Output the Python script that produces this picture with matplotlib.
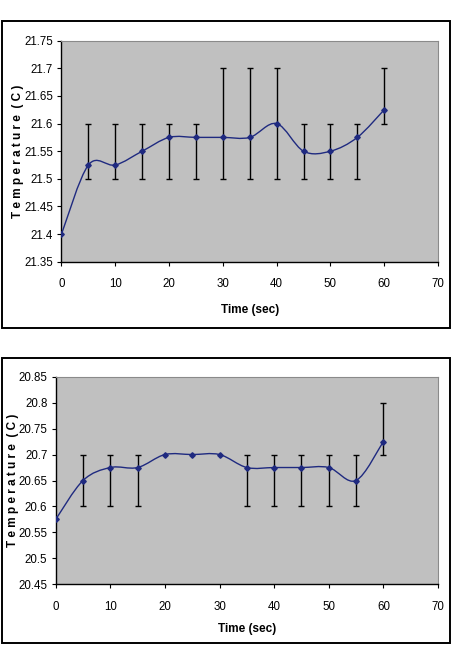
import numpy as np
import matplotlib.pyplot as plt
from matplotlib.path import Path
from matplotlib.patches import PathPatch, Rectangle

# ---- data ----
time_s = [0, 5, 10, 15, 20, 25, 30, 35, 40, 45, 50, 55, 60]

temp_a = [21.4, 21.525, 21.525, 21.55, 21.575, 21.575, 21.575, 21.575,
          21.6, 21.55, 21.55, 21.575, 21.625]
err_lo_a = [None, 21.5, 21.5, 21.5, 21.5, 21.5, 21.5, 21.5, 21.5, 21.5, 21.5, 21.5, 21.6]
err_hi_a = [None, 21.6, 21.6, 21.6, 21.6, 21.6, 21.7, 21.7, 21.7, 21.6, 21.6, 21.6, 21.7]

temp_b = [20.575, 20.65, 20.675, 20.675, 20.7, 20.7, 20.7, 20.675,
          20.675, 20.675, 20.675, 20.65, 20.725]
err_lo_b = [None, 20.6, 20.6, 20.6, None, None, None, 20.6, 20.6, 20.6, 20.6, 20.6, 20.7]
err_hi_b = [None, 20.7, 20.7, 20.7, None, None, None, 20.7, 20.7, 20.7, 20.7, 20.7, 20.8]

yticks_a = [21.35, 21.4, 21.45, 21.5, 21.55, 21.6, 21.65, 21.7, 21.75]
ytick_labels_a = ['21.35', '21.4', '21.45', '21.5', '21.55', '21.6', '21.65', '21.7', '21.75']
yticks_b = [20.45, 20.5, 20.55, 20.6, 20.65, 20.7, 20.75, 20.8, 20.85]
ytick_labels_b = ['20.45', '20.5', '20.55', '20.6', '20.65', '20.7', '20.75', '20.8', '20.85']
xticks = [0, 10, 20, 30, 40, 50, 60, 70]

plt.rcParams['font.family'] = ['Liberation Sans', 'DejaVu Sans']

W, H = 456, 646
fig = plt.figure(figsize=(W / 100, H / 100), dpi=100)


def fbox(x0, y0, x1, y1):
    # pixel box (top-left origin) -> figure fraction rect
    return [x0 / W, 1 - y1 / H, (x1 - x0) / W, (y1 - y0) / H]


def smooth_path(x, y):
    # Excel-style smoothed line: Bezier through points (Catmull-Rom, tension 1/6)
    pts = np.column_stack([x, y]).astype(float)
    n = len(pts)
    verts = [pts[0]]
    codes = [Path.MOVETO]
    for i in range(n - 1):
        p0 = pts[i - 1] if i > 0 else pts[i]
        p1, p2 = pts[i], pts[i + 1]
        p3 = pts[i + 2] if i + 2 < n else pts[i + 1]
        c1 = p1 + (p2 - p0) / 6.0
        c2 = p2 - (p3 - p1) / 6.0
        verts += [c1, c2, p2]
        codes += [Path.CURVE4] * 3
    return Path(verts, codes)


def draw_panel(box, axrect, temps, lo, hi, yticks, ylabels, xpad):
    fig.patches.append(Rectangle((box[0], box[1]), box[2], box[3],
                                 transform=fig.transFigure, fill=False,
                                 edgecolor='black', linewidth=1.4))
    ax = fig.add_axes(axrect)
    ax.set_facecolor('#C0C0C0')
    ax.set_xlim(0, 70)
    ax.set_ylim(yticks[0], yticks[-1])

    xs = [t for t, l in zip(time_s, lo) if l is not None]
    ys = [(l + h) / 2 for l, h in zip(lo, hi) if l is not None]
    half = [(h - l) / 2 for l, h in zip(lo, hi) if l is not None]
    ax.errorbar(xs, ys, yerr=half, fmt='none', ecolor='black',
                elinewidth=1.0, capsize=2.5, capthick=1.0, zorder=2)

    ax.add_patch(PathPatch(smooth_path(time_s, temps), facecolor='none',
                           edgecolor='#1F2A80', linewidth=1.0, zorder=3))
    ax.plot(time_s, temps, linestyle='none', marker='D', markersize=2.8,
            color='#1F2A80', zorder=4)

    ax.set_yticks(yticks)
    ax.set_yticklabels(ylabels)
    ax.set_xticks(xticks)
    ax.tick_params(axis='both', direction='out', length=3, width=0.8,
                   labelsize=8.3, colors='black')
    ax.tick_params(axis='x', pad=9)
    ax.tick_params(axis='y', pad=3)
    for side in ('top', 'right'):
        ax.spines[side].set_color('#8A8A8A')
        ax.spines[side].set_linewidth(0.8)
    for side in ('left', 'bottom'):
        ax.spines[side].set_color('black')
        ax.spines[side].set_linewidth(1.0)
    ax.set_xlabel('Time (sec)', fontsize=8.5, fontweight='bold', labelpad=xpad)
    ax.set_ylabel('T e m p e r a t u r e  ( C )', fontsize=8.5,
                  fontweight='bold')
    return ax


ax1 = draw_panel(fbox(2, 21, 450, 328), fbox(61.5, 40.7, 438, 261.7),
                 temp_a, err_lo_a, err_hi_a, yticks_a, ytick_labels_a, 10)
ax1.yaxis.set_label_coords(-0.1, 0.5)

ax2 = draw_panel(fbox(2, 358, 450, 643), fbox(55.7, 376.7, 438, 584.3),
                 temp_b, err_lo_b, err_hi_b, yticks_b, ytick_labels_b, 7)
ax2.yaxis.set_label_coords(-0.095, 0.5)

fig.savefig('out.png', dpi=100)
